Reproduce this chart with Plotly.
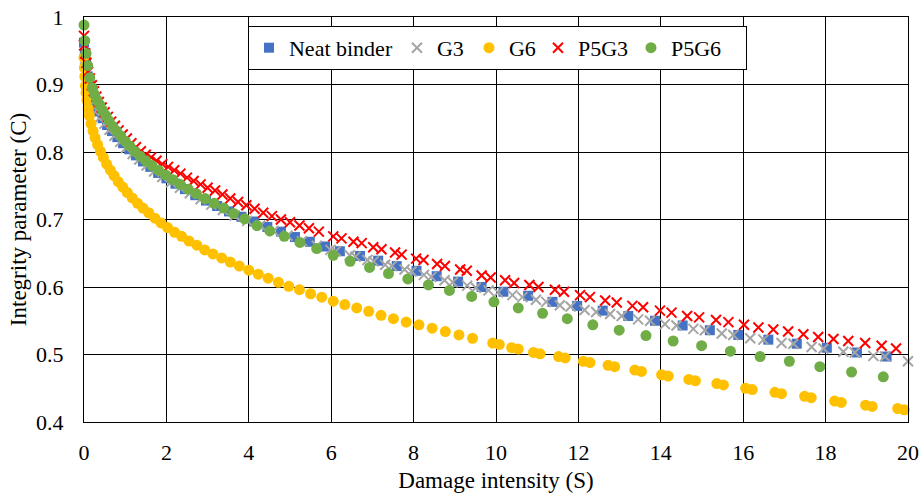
import plotly.graph_objects as go

# Damage intensity S and integrity parameter C for each binder
neat_s = [0, 0.02, 0.05, 0.09, 0.14, 0.20, 0.27, 0.35, 0.45, 0.56, 0.68, 0.81, 0.95, 1.10, 1.26,
          1.43, 1.61, 1.80, 2.00, 2.22, 2.45, 2.70, 2.96, 3.23, 3.52, 3.82, 4.13, 4.45, 4.78, 5.12,
          5.48, 5.85, 6.21, 6.70, 7.14, 7.59, 8.07, 8.56, 9.08, 9.65, 10.18, 10.78, 11.37, 11.97, 12.59,
          13.21, 13.86, 14.53, 15.19, 15.88, 16.61, 17.30, 18.03, 18.76, 19.48]
neat_c = [0.962, 0.945, 0.930, 0.912, 0.896, 0.882, 0.870, 0.860, 0.850, 0.840, 0.831, 0.822, 0.813, 0.804, 0.795,
          0.786, 0.778, 0.769, 0.761, 0.753, 0.745, 0.736, 0.728, 0.720, 0.712, 0.704, 0.697, 0.689, 0.682, 0.674,
          0.667, 0.660, 0.653, 0.646, 0.639, 0.631, 0.624, 0.616, 0.608, 0.600, 0.593, 0.587, 0.578, 0.572, 0.565,
          0.557, 0.550, 0.543, 0.536, 0.529, 0.522, 0.516, 0.510, 0.503, 0.497]

g3_s = [0, 0.03, 0.07, 0.12, 0.17, 0.23, 0.31, 0.40, 0.50, 0.62, 0.74, 0.88, 1.02, 1.18, 1.34,
        1.52, 1.70, 1.90, 2.11, 2.33, 2.57, 2.83, 3.09, 3.37, 3.66, 3.96, 4.28, 4.60, 4.94, 5.29,
        5.65, 5.98, 6.11, 6.45, 6.59, 6.88, 7.03, 7.31, 7.47, 7.78, 7.95, 8.25, 8.43, 8.75, 8.95,
        9.30, 9.51, 9.82, 10.05, 10.40, 10.64, 10.97, 11.22, 11.55, 11.81, 12.15, 12.43, 12.77, 13.05,
        13.45, 13.74, 14.10, 14.38, 14.79, 15.07, 15.48, 15.76, 16.17, 16.49, 16.93, 17.22, 17.66, 17.95,
        18.43, 18.71, 19.16, 19.44, 20.00]
g3_c = [0.958, 0.938, 0.918, 0.900, 0.886, 0.874, 0.862, 0.852, 0.842, 0.833, 0.824, 0.815, 0.806, 0.797, 0.789,
        0.780, 0.771, 0.763, 0.755, 0.747, 0.739, 0.730, 0.722, 0.714, 0.706, 0.698, 0.691, 0.683, 0.676, 0.668,
        0.661, 0.655, 0.653, 0.647, 0.645, 0.640, 0.638, 0.633, 0.631, 0.626, 0.623, 0.618, 0.615, 0.610, 0.607,
        0.602, 0.599, 0.595, 0.592, 0.588, 0.585, 0.581, 0.578, 0.573, 0.571, 0.566, 0.563, 0.560, 0.557,
        0.552, 0.550, 0.545, 0.543, 0.538, 0.536, 0.531, 0.529, 0.524, 0.522, 0.517, 0.516, 0.511, 0.509,
        0.504, 0.503, 0.498, 0.497, 0.490]

g6_s = [0, 0.01, 0.02, 0.035, 0.05, 0.07, 0.10, 0.13, 0.17, 0.22, 0.27, 0.33, 0.40, 0.47, 0.55,
        0.64, 0.73, 0.83, 0.94, 1.05, 1.17, 1.30, 1.43, 1.57, 1.72, 1.87, 2.03, 2.20, 2.37, 2.55,
        2.74, 2.93, 3.13, 3.34, 3.55, 3.77, 4.00, 4.23, 4.47, 4.72, 4.97, 5.23, 5.50, 5.77, 6.05,
        6.33, 6.62, 6.91, 7.21, 7.51, 7.82, 8.13, 8.45, 8.77, 9.10, 9.43, 9.92, 10.08, 10.38, 10.54,
        10.91, 11.07, 11.52, 11.68, 12.12, 12.28, 12.72, 12.88, 13.37, 13.53, 14.02, 14.18, 14.68, 14.84,
        15.36, 15.52, 16.06, 16.22, 16.77, 16.93, 17.49, 17.65, 18.22, 18.38, 18.97, 19.13, 19.75, 19.91]
g6_c = [0.940, 0.925, 0.912, 0.898, 0.888, 0.877, 0.864, 0.854, 0.842, 0.831, 0.821, 0.811, 0.801, 0.792, 0.782,
        0.773, 0.765, 0.756, 0.748, 0.740, 0.732, 0.724, 0.717, 0.710, 0.702, 0.695, 0.688, 0.681, 0.675, 0.668,
        0.662, 0.655, 0.649, 0.643, 0.637, 0.631, 0.625, 0.619, 0.613, 0.607, 0.601, 0.596, 0.590, 0.585, 0.579,
        0.574, 0.569, 0.564, 0.558, 0.553, 0.548, 0.544, 0.539, 0.534, 0.529, 0.524, 0.517, 0.515, 0.510, 0.508,
        0.503, 0.501, 0.497, 0.495, 0.490, 0.488, 0.484, 0.482, 0.477, 0.475, 0.470, 0.468, 0.463, 0.461,
        0.457, 0.455, 0.450, 0.448, 0.444, 0.442, 0.438, 0.436, 0.431, 0.429, 0.425, 0.423, 0.420, 0.418]

p5g3_s = [0, 0.01, 0.03, 0.06, 0.10, 0.14, 0.19, 0.24, 0.30, 0.36, 0.43, 0.50, 0.58, 0.66, 0.75,
          0.84, 0.94, 1.04, 1.15, 1.26, 1.38, 1.50, 1.63, 1.76, 1.90, 2.04, 2.19, 2.34, 2.50, 2.66,
          2.83, 3.00, 3.18, 3.36, 3.55, 3.74, 3.94, 4.14, 4.35, 4.56, 4.78, 5.00, 5.23, 5.46, 5.70,
          6.05, 6.25, 6.54, 6.74, 7.02, 7.22, 7.55, 7.71, 8.06, 8.24, 8.57, 8.76, 9.13, 9.29, 9.65,
          9.87, 10.22, 10.44, 10.81, 11.03, 11.43, 11.65, 12.04, 12.28, 12.65, 12.93, 13.31, 13.57, 13.98, 14.26,
          14.64, 14.93, 15.34, 15.64, 16.02, 16.37, 16.73, 17.09, 17.46, 17.82, 18.19, 18.55, 18.96, 19.36, 19.71]
p5g3_c = [0.972, 0.958, 0.946, 0.932, 0.919, 0.909, 0.899, 0.890, 0.882, 0.874, 0.866, 0.859, 0.852, 0.845, 0.839,
          0.832, 0.826, 0.820, 0.813, 0.807, 0.801, 0.796, 0.792, 0.787, 0.782, 0.778, 0.773, 0.768, 0.762, 0.757,
          0.752, 0.747, 0.743, 0.737, 0.731, 0.726, 0.721, 0.716, 0.710, 0.705, 0.700, 0.696, 0.691, 0.687, 0.682,
          0.675, 0.672, 0.667, 0.665, 0.659, 0.656, 0.651, 0.648, 0.642, 0.640, 0.634, 0.631, 0.626, 0.624, 0.617,
          0.614, 0.610, 0.606, 0.603, 0.600, 0.596, 0.593, 0.588, 0.585, 0.580, 0.577, 0.572, 0.570, 0.565, 0.562,
          0.557, 0.555, 0.551, 0.548, 0.544, 0.540, 0.537, 0.534, 0.530, 0.526, 0.523, 0.520, 0.517, 0.513, 0.509]

p5g6_s = [0, 0.02, 0.05, 0.09, 0.14, 0.20, 0.26, 0.32, 0.38, 0.45, 0.53, 0.61, 0.70, 0.79, 0.89,
          1.00, 1.11, 1.23, 1.36, 1.50, 1.65, 1.81, 1.98, 2.16, 2.34, 2.53, 2.73, 2.94, 3.16, 3.39,
          3.63, 3.90, 4.20, 4.51, 4.86, 5.24, 5.65, 6.05, 6.46, 6.93, 7.39, 7.86, 8.36, 8.87, 9.41,
          9.95, 10.54, 11.13, 11.73, 12.35, 12.99, 13.64, 14.30, 14.99, 15.69, 16.41, 17.12, 17.86, 18.63, 19.40]
p5g6_c = [0.988, 0.965, 0.946, 0.928, 0.910, 0.895, 0.885, 0.877, 0.870, 0.862, 0.854, 0.846, 0.838, 0.831, 0.824,
          0.816, 0.809, 0.801, 0.794, 0.787, 0.780, 0.773, 0.766, 0.759, 0.752, 0.745, 0.738, 0.731, 0.724, 0.717,
          0.709, 0.701, 0.691, 0.683, 0.675, 0.666, 0.657, 0.647, 0.638, 0.629, 0.620, 0.612, 0.603, 0.595, 0.586,
          0.578, 0.569, 0.561, 0.553, 0.544, 0.536, 0.528, 0.520, 0.513, 0.505, 0.497, 0.490, 0.482, 0.474, 0.467]

x_ticks = [0, 2, 4, 6, 8, 10, 12, 14, 16, 18, 20]
y_ticks = [0.4, 0.5, 0.6, 0.7, 0.8, 0.9, 1.0]
y_tick_text = ["0.4", "0.5", "0.6", "0.7", "0.8", "0.9", "1"]

FONT = "Liberation Serif, Times New Roman, serif"

series = [
    ("Neat binder", neat_s, neat_c,
     dict(symbol="square", size=10, color="#4472C4"), 103),
    ("G3", g3_s, g3_c,
     dict(symbol="x-thin", size=10, color="#A5A5A5", line=dict(width=2, color="#A5A5A5")), 27),
    ("G6", g6_s, g6_c,
     dict(symbol="circle", size=11, color="#FFC000"), 24),
    ("P5G3", p5g3_s, p5g3_c,
     dict(symbol="x-thin", size=10, color="#FF0000", line=dict(width=2, color="#FF0000")), 48),
    ("P5G6", p5g6_s, p5g6_c,
     dict(symbol="circle", size=11, color="#70AD47"), 70),
]

fig = go.Figure()
for name, xs, ys, marker, lw in series:
    fig.add_trace(go.Scatter(
        x=xs, y=ys, mode="markers", name=name, marker=marker,
        legendwidth=lw, cliponaxis=False,
    ))

axis_common = dict(
    showgrid=True, gridcolor="#000000", gridwidth=1.3,
    showline=True, linecolor="#000000", linewidth=1.3, mirror=True,
    zeroline=False, ticks="", automargin=False,
    tickfont=dict(family=FONT, size=22, color="#000000"),
)

fig.update_layout(
    width=924, height=498,
    margin=dict(l=84, r=16, t=17, b=76),
    paper_bgcolor="#FFFFFF", plot_bgcolor="#FFFFFF",
    font=dict(family=FONT, size=22, color="#000000"),
    xaxis=dict(range=[0, 20], tickvals=x_ticks, ticklabelstandoff=10,
               title=dict(text="Damage intensity (S)", font=dict(family=FONT, size=23), standoff=8),
               **axis_common),
    yaxis=dict(range=[0.4, 1.0], tickvals=y_ticks, ticktext=y_tick_text, ticklabelstandoff=15,
               title=dict(text="Integrity parameter (C)", font=dict(family=FONT, size=23), standoff=2),
               **axis_common),
    legend=dict(
        orientation="h", x=0.199, xanchor="left", y=0.978, yanchor="top",
        bgcolor="#FFFFFF", bordercolor="#000000", borderwidth=1,
        font=dict(family=FONT, size=22, color="#000000"),
    ),
    showlegend=True,
)

fig.write_html("out.html")
